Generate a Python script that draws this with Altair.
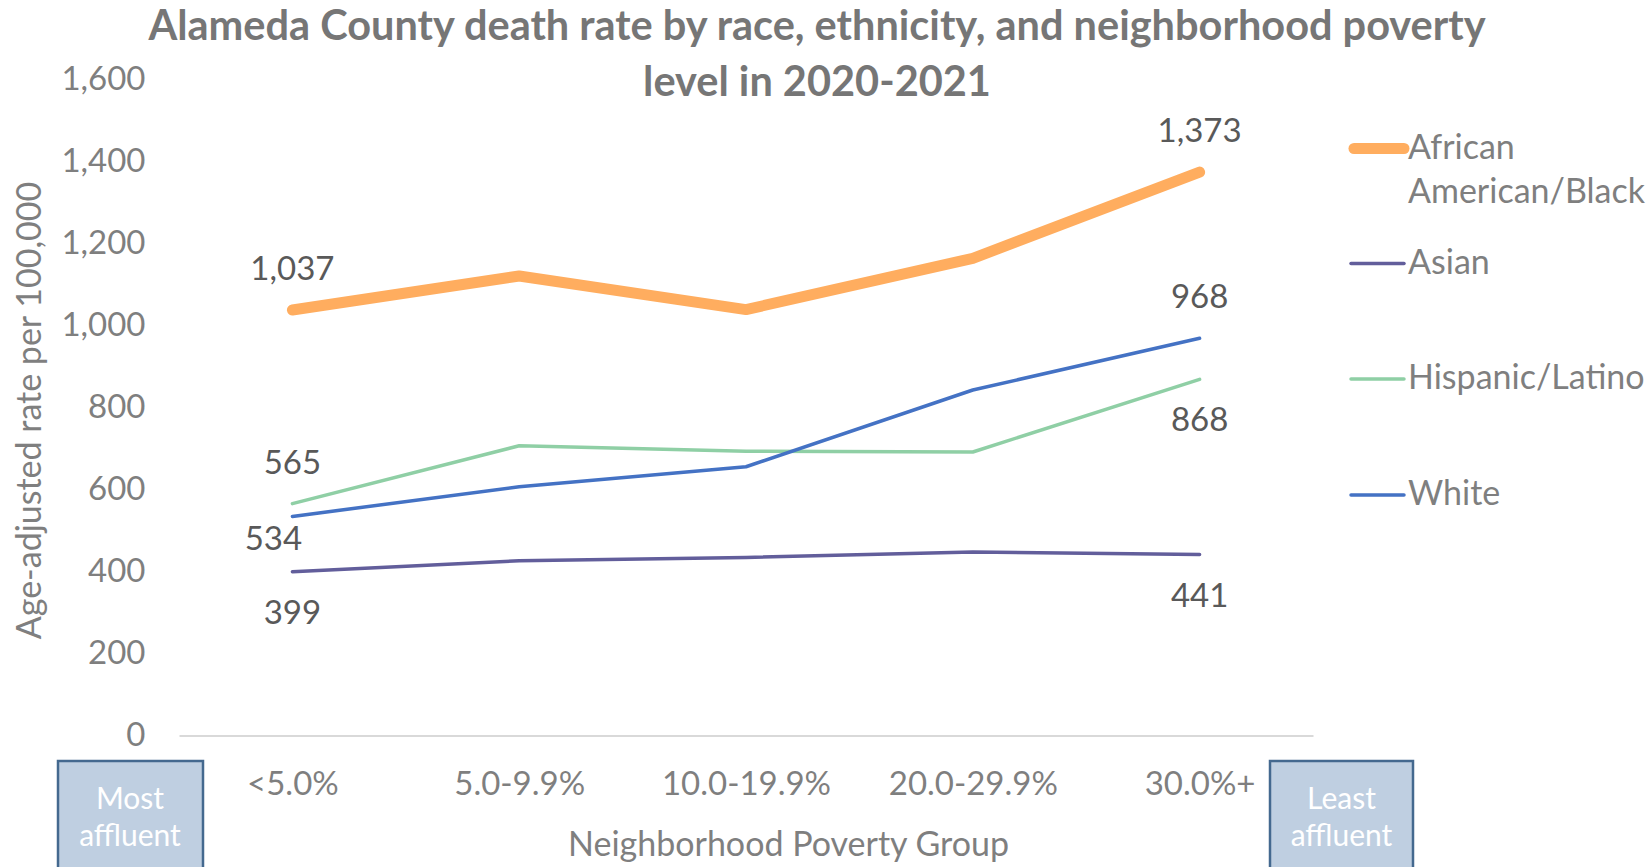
import altair as alt
import pandas as pd

# ---- data ----
groups = ["<5.0%", "5.0-9.9%", "10.0-19.9%", "20.0-29.9%", "30.0%+"]
series = ["African American/Black", "Asian", "Hispanic/Latino", "White"]
black = [1037, 1120, 1038, 1163, 1373]
asian = [399, 426, 434, 447, 441]
hispanic = [565, 706, 693, 691, 868]
white = [534, 606, 655, 842, 968]

title_lines = ["Alameda County death rate by race, ethnicity, and neighborhood poverty",
               "level in 2020-2021"]
y_title = "Age-adjusted rate per 100,000"
x_title = "Neighborhood Poverty Group"
legend_lines = [["African", "American/Black"], ["Asian"], ["Hispanic/Latino"], ["White"]]
left_box = ["Most", "affluent"]
right_box = ["Least", "affluent"]

# which end-points carry a data label (series, group)
labels_above = [("African American/Black", "<5.0%"), ("Hispanic/Latino", "<5.0%"),
                ("African American/Black", "30.0%+"), ("White", "30.0%+")]
labels_below = [("Asian", "<5.0%"), ("Hispanic/Latino", "30.0%+"), ("Asian", "30.0%+")]
labels_below_left = [("White", "<5.0%")]

# ---- styles ----
colors = ["#FFAD5F", "#625E9B", "#8FCFA5", "#4472C4"]
widths = [11, 3.5, 3.5, 3.5]
FONT = "Lato"
GRAY = "#7F7F7F"
DARK = "#595959"
FS = 33

rows = []
for name, vals in zip(series, [black, asian, hispanic, white]):
    for g, v in zip(groups, vals):
        rows.append({"series": name, "group": g, "value": v})
df = pd.DataFrame(rows)


def pick(pairs):
    keys = set(pairs)
    return df[[(s, g) in keys for s, g in zip(df["series"], df["group"])]]


x_enc = alt.X("group:N", sort=groups, scale=alt.Scale(type="point", padding=0.5),
              axis=alt.Axis(title=x_title, labelAngle=0, labelPadding=33, titleX=609, titleY=110,
                            titleBaseline="middle", titleAnchor="middle", titleFontSize=34))
y_enc = alt.Y("value:Q", scale=alt.Scale(domain=[0, 1600], nice=False),
              axis=alt.Axis(title=y_title, values=list(range(0, 1601, 200)), format=",.0f",
                            labelPadding=34, titleX=-149, titleY=331, titleAngle=270,
                            titleBaseline="middle", titleAnchor="middle", titleFontSize=34,
                            grid=False, domain=False, ticks=False))

lines = alt.Chart(df).mark_line(strokeCap="round", strokeJoin="round").encode(
    x=x_enc, y=y_enc,
    color=alt.Color("series:N", sort=series, scale=alt.Scale(domain=series, range=colors), legend=None),
    strokeWidth=alt.StrokeWidth("series:N", sort=series,
                                scale=alt.Scale(type="ordinal", domain=series, range=widths),
                                legend=None),
)


def label_layer(data, dx, dy):
    return alt.Chart(data).mark_text(font=FONT, fontSize=FS, color=DARK, baseline="middle",
                                     align="center", dx=dx, dy=dy).encode(
        x=alt.X("group:N", sort=groups), y=alt.Y("value:Q"),
        text=alt.Text("value:Q", format=",.0f"))


lab1 = label_layer(pick(labels_above), 0, -40)
lab2 = label_layer(pick(labels_below), 0, 42)
lab3 = label_layer(pick(labels_below_left), -19, 24)

one = alt.Data(values=[{"k": 0}])


# annotation boxes under the axis
def box(x1, x2, text_lines, xc):
    rect = alt.Chart(one).mark_rect(fill="#BFCFE1", stroke="#44698F", strokeWidth=2.5).encode(
        x=alt.value(x1), x2=alt.value(x2), y=alt.value(682), y2=alt.value(800))
    txts = []
    for i, t in enumerate(text_lines):
        txts.append(alt.Chart(one).mark_text(font=FONT, fontSize=30, color="white",
                                             align="center", baseline="middle").encode(
            x=alt.value(xc), y=alt.value(721 + 37 * i), text=alt.value(t)))
    return [rect] + txts


# manual legend (right side)
legend_y = [69.5, 184.5, 300, 416]
legend_layers = []
for i, name in enumerate(series):
    legend_layers.append(alt.Chart(one).mark_rule(color=colors[i], strokeWidth=widths[i],
                                                  strokeCap="round").encode(
        x=alt.value(1172 + (3 if widths[i] > 5 else 0)), x2=alt.value(1225), y=alt.value(legend_y[i])))
    for j, t in enumerate(legend_lines[i]):
        legend_layers.append(alt.Chart(one).mark_text(font=FONT, fontSize=34, color=GRAY,
                                                      align="left", baseline="middle").encode(
            x=alt.value(1229), y=alt.value(legend_y[i] + 44.5 * j), text=alt.value(t)))

layers = [lines, lab1, lab2, lab3] + box(-121, 24, left_box, -49) + box(1091, 1234, right_box, 1162.5) + legend_layers

chart = alt.layer(*layers).properties(
    width=1134, height=656.5,
    padding={"left": 179, "top": 79, "right": 339, "bottom": 131.5},
    autosize=alt.AutoSizeParams(type="none"),
    title=alt.TitleParams(text=title_lines, font=FONT, fontSize=41.5, fontWeight="bold",
                          color="#767676", anchor="middle", frame="group", orient="top",
                          offset=0, dx=71, dy=41, lineHeight=56),
).configure_view(stroke=None).configure_axis(
    labelFont=FONT, labelFontSize=FS, labelColor=GRAY, titleFont=FONT, titleFontSize=FS,
    titleColor=GRAY, titleFontWeight="normal", ticks=False, grid=False,
    domainColor="#D9D9D9", domainWidth=2,
)

chart.save("out.html", embed_options={"renderer": "svg", "actions": False})
